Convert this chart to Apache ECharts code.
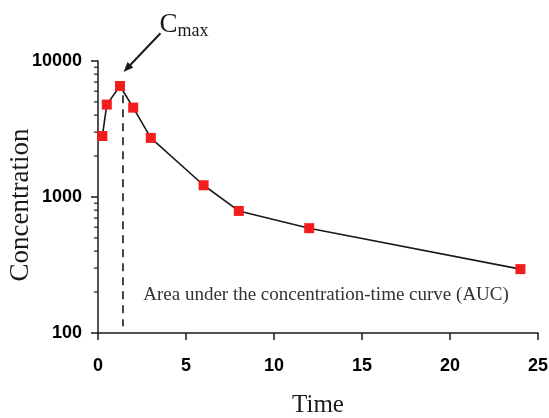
<!DOCTYPE html>
<html><head><meta charset="utf-8">
<script src="https://cdn.jsdelivr.net/npm/echarts@6/dist/echarts.min.js"></script>
<style>html,body{margin:0;padding:0;background:#fff}#c{width:549px;height:418px}</style>
</head><body><div id="c"></div>
<script>
// ---- data ----
const times = [0.25, 0.5, 1.25, 2, 3, 6, 8, 12, 24];
const concentrations = [2810, 4780, 6550, 4540, 2720, 1220, 790, 590, 295];
const xTickStep = 5;
const xRange = [0, 25];
const yRange = [100, 10000];
const yMinorTicks = [200, 300, 400, 500, 600, 700, 800, 900, 2000, 3000, 4000, 5000, 6000, 7000, 8000, 9000];
// annotation anchors (data space)
const tmaxLine = { t: 1.4, top: 5600, bottom: 112 };
const cmaxArrow = { from: [3.55, 16000], to: [1.45, 8300] };
const cmaxTextAt = [3.5, 18500];
const aucText = 'Area under the concentration-time curve (AUC)';
const aucTextAt = [2.57, 189];

const serif = "'Liberation Serif','Times New Roman',serif";
const sans = "'Liberation Sans',Arial,sans-serif";
const ink = '#1a1a1a';

const chart = echarts.init(document.getElementById('c'));
const option = {
  animation: false,
  backgroundColor: '#fff',
  grid: { left: 98, right: 11, top: 61, bottom: 85, containLabel: false, outerBoundsMode: 'none' },
  xAxis: {
    type: 'value', min: xRange[0], max: xRange[1], interval: xTickStep,
    name: 'Time', nameLocation: 'middle', nameGap: 60, nameMoveOverlap: false,
    nameTextStyle: { fontFamily: serif, fontSize: 25, color: ink },
    axisLine: { show: true, lineStyle: { color: ink, width: 1.5 } },
    axisTick: { show: true, length: 7, lineStyle: { color: ink, width: 1.5 } },
    axisLabel: { margin: 24, fontFamily: sans, fontWeight: 'bold', fontSize: 18, color: '#000' },
    splitLine: { show: false }
  },
  yAxis: {
    type: 'log', logBase: 10, min: yRange[0], max: yRange[1],
    name: 'Concentration', nameLocation: 'middle', nameGap: 64, nameMoveOverlap: false,
    nameTextStyle: { fontFamily: serif, fontSize: 27, color: ink, padding: [0, 16, 0, 0] },
    axisLine: { show: true, lineStyle: { color: ink, width: 1.5 } },
    axisTick: { show: true, length: 7, lineStyle: { color: ink, width: 1.5 } },
    minorTick: { show: false },
    axisLabel: { margin: 16, fontFamily: sans, fontWeight: 'bold', fontSize: 18, color: '#000',
      formatter: v => String(Math.round(v)) },
    splitLine: { show: false }, minorSplitLine: { show: false }
  },
  series: [{
    type: 'line',
    data: times.map((t, i) => [t, concentrations[i]]),
    symbol: 'rect', symbolSize: 10,
    itemStyle: { color: '#f21d1d' },
    lineStyle: { color: ink, width: 1.6 },
    z: 3,
    markLine: {
      silent: true, symbol: 'none', animation: false,
      label: { show: false },
      data: [
        [{ coord: [tmaxLine.t, tmaxLine.top], lineStyle: { color: ink, width: 1.6, type: [8, 6] } },
         { coord: [tmaxLine.t, tmaxLine.bottom] }]
      ]
    }
  }]
};
chart.setOption(option);

const px = p => chart.convertToPixel({ gridIndex: 0 }, p);
const cPos = px(cmaxTextAt);
const aPos = px(aucTextAt);
const a0 = px(cmaxArrow.from), a1 = px(cmaxArrow.to);
const dx = a1[0] - a0[0], dy = a1[1] - a0[1], len = Math.hypot(dx, dy);
const ux = dx / len, uy = dy / len, hl = 10, hw = 4;
const base = [a1[0] - ux * hl, a1[1] - uy * hl];
const head = [a1, [base[0] - uy * hw, base[1] + ux * hw], [base[0] + uy * hw, base[1] - ux * hw]];
const axisX = px([0, yRange[0]])[0];
const graphics = [
  { type: 'text', x: cPos[0], y: cPos[1], style: {
      text: 'C{s|max}', fill: ink, font: '27px ' + serif, verticalAlign: 'middle',
      rich: { s: { fontFamily: serif, fontSize: 18, fill: ink, padding: [13, 0, 0, 0] } } } },
  { type: 'text', x: aPos[0], y: aPos[1], style: {
      text: aucText, fill: '#333', font: '19px ' + serif, verticalAlign: 'middle' } },
  { type: 'line', shape: { x1: a0[0], y1: a0[1], x2: base[0] + ux * 2, y2: base[1] + uy * 2 },
    style: { stroke: ink, lineWidth: 2 } },
  { type: 'polygon', shape: { points: head }, style: { fill: ink } }
];
yMinorTicks.forEach(v => {
  const y = px([0, v])[1];
  graphics.push({ type: 'line', shape: { x1: axisX - 4, y1: y, x2: axisX, y2: y },
    style: { stroke: ink, lineWidth: 1.2 } });
});
chart.setOption({ graphic: graphics });
</script></body></html>
